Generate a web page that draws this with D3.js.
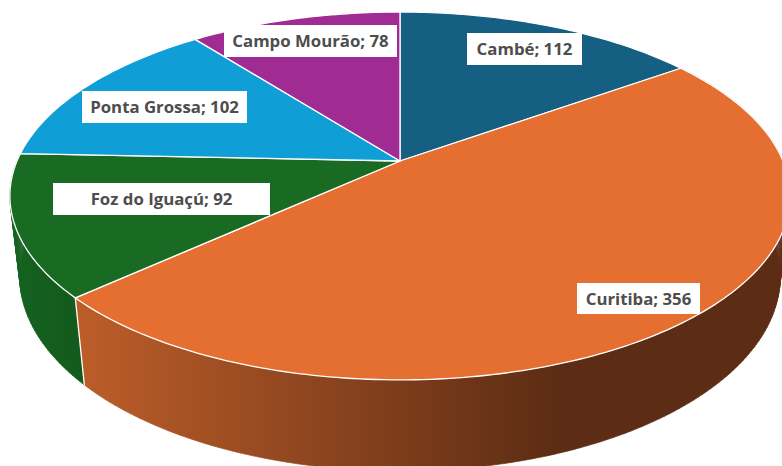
<!DOCTYPE html>
<html><head><meta charset="utf-8">
<script src="https://cdn.jsdelivr.net/npm/d3@7"></script>
<style>html,body{margin:0;padding:0;background:#fff;overflow:hidden}svg{display:block}</style>
</head><body><svg id="c" width="782" height="466"></svg>
<script>
const categories = ["Cambé","Curitiba","Foz do Iguaçú","Ponta Grossa","Campo Mourão"];
const values = [112,356,92,102,78];
const topColors = ["#156082","#E56F30","#196B24","#0F9ED5","#A02B93"];
const labelBoxes = [[467,33,115,32],[577,283,123,31],[53,183,217,32],[82,91,165,32],[224,25,173,32]];

const svg = d3.select("#c");
const cx=400, R=383, A=146.7, B=161, C=-0.19, dW=0.025, dY=85.6;
const project=(r,th,bottom)=>{
  const x=r*Math.sin(th), t=-r*Math.cos(th);
  const w=1+C*t+(bottom?dW:0);
  return [cx+R*x/w,(A*t+B+(bottom?dY:0))/w];
};
const arcPts=(a0,a1,bottom)=>{
  const n=Math.max(2,Math.ceil(Math.abs(a1-a0)*60));
  return d3.range(n+1).map(i=>project(1,a0+(a1-a0)*i/n,bottom));
};
const line=d3.line();
const pie=d3.pie().sort(null).value(d=>d)(values);

const defs=svg.append("defs");
const g1=defs.append("linearGradient").attr("id","sideOrange").attr("gradientUnits","userSpaceOnUse")
  .attr("x1",80).attr("x2",560).attr("y1",0).attr("y2",0);
g1.append("stop").attr("offset",0).attr("stop-color","#BC5D29");
g1.append("stop").attr("offset",1).attr("stop-color","#5C2C14");
const g2=defs.append("linearGradient").attr("id","sideGreen").attr("gradientUnits","userSpaceOnUse")
  .attr("x1",10).attr("x2",80).attr("y1",0).attr("y2",0);
g2.append("stop").attr("offset",0).attr("stop-color","#156220");
g2.append("stop").attr("offset",1).attr("stop-color","#135A1D");

// side walls: quad strip per slice so the silhouette joins the two rims
const sideFill=[null,"url(#sideOrange)","url(#sideGreen)"];
[2,1].forEach(i=>{
  const p=pie[i];
  const top=arcPts(p.startAngle,p.endAngle,false), bot=arcPts(p.startAngle,p.endAngle,true);
  const d=d3.pairs(d3.range(top.length)).map(([a,b])=>line([top[a],top[b],bot[b],bot[a]])+"Z").join("");
  svg.append("path").attr("d",d).attr("fill",sideFill[i]).attr("stroke",sideFill[i]).attr("stroke-width",0.6);
});
{
  const a=pie[1].endAngle;
  svg.append("path").attr("d",line([project(1,a,false),project(1,a,true)])).attr("stroke","#fff").attr("stroke-width",1.3).attr("fill","none");
}
pie.forEach((p,i)=>{
  const poly=[project(0,0,false),...arcPts(p.startAngle,p.endAngle,false)];
  svg.append("path").attr("d",line(poly)+"Z").attr("fill",topColors[i]).attr("stroke","#fff").attr("stroke-width",1.3).attr("stroke-linejoin","round");
});
categories.forEach((c,i)=>{
  const [x,y,w,h]=labelBoxes[i];
  svg.append("rect").attr("x",x).attr("y",y).attr("width",w).attr("height",h).attr("fill","#fff");
  svg.append("text").attr("x",x+w/2).attr("y",y+h/2+6).attr("text-anchor","middle")
    .attr("font-family","'Open Sans',sans-serif").attr("font-weight",700).attr("font-size",16.8).attr("fill","#4d4d4d")
    .text(`${c}; ${values[i]}`);
});
</script></body></html>
